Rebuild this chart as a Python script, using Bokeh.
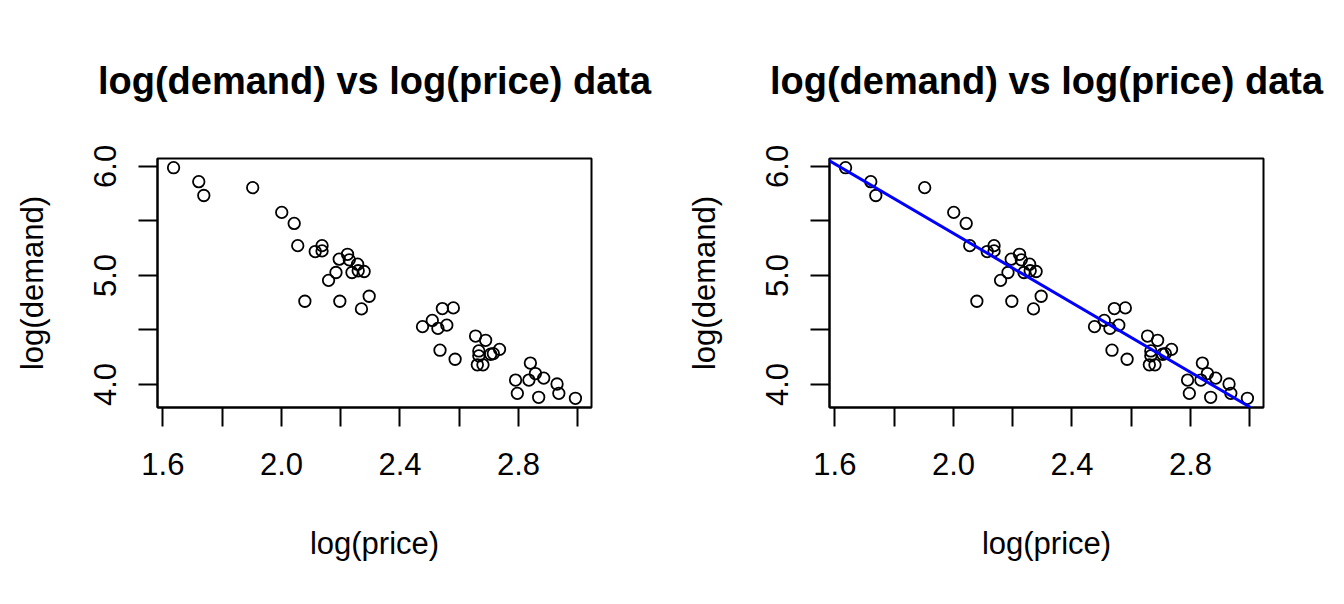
import numpy as np
from bokeh.plotting import figure
from bokeh.layouts import row
from bokeh.models import Range1d, FixedTicker, Slope
from bokeh.embed import file_html
from bokeh.resources import INLINE

# ---- data ----
log_price = [1.636, 1.721, 1.738, 1.903, 2.001, 2.043, 2.055, 2.114, 2.137, 2.137,
             2.079, 2.159, 2.184, 2.195, 2.223, 2.229, 2.257, 2.238, 2.259, 2.279,
             2.197, 2.270, 2.296, 2.476, 2.509, 2.528, 2.543, 2.580, 2.558, 2.535,
             2.586, 2.655, 2.689, 2.666, 2.666, 2.661, 2.680, 2.706, 2.715, 2.736,
             2.840, 2.857, 2.790, 2.835, 2.885, 2.930, 2.796, 2.868, 2.936, 2.992]
log_demand = [5.988, 5.860, 5.733, 5.805, 5.578, 5.477, 5.273, 5.219, 5.273, 5.225,
              4.763, 4.955, 5.027, 5.149, 5.194, 5.143, 5.103, 5.027, 5.043, 5.036,
              4.763, 4.693, 4.809, 4.530, 4.587, 4.514, 4.696, 4.702, 4.544, 4.314,
              4.231, 4.444, 4.405, 4.307, 4.262, 4.180, 4.180, 4.277, 4.283, 4.322,
              4.196, 4.100, 4.040, 4.040, 4.058, 4.004, 3.918, 3.882, 3.918, 3.873]

x_ticks = [1.6, 1.8, 2.0, 2.2, 2.4, 2.6, 2.8, 3.0]
x_tick_labels = ["1.6", "", "2.0", "", "2.4", "", "2.8", ""]
y_ticks = [4.0, 4.5, 5.0, 5.5, 6.0]
y_tick_labels = ["4.0", "", "5.0", "", "6.0"]

title_text = "log(demand) vs log(price) data"
x_label = "log(price)"
y_label = "log(demand)"

FONT = "Liberation Sans"


def padded(vals):
    lo, hi = min(vals), max(vals)
    d = (hi - lo) * 0.04
    return lo - d, hi + d


def make_panel(with_fit):
    p = figure(width=672, height=604, output_backend="svg", toolbar_location=None,
               x_range=Range1d(*padded(log_price)), y_range=Range1d(*padded(log_demand)),
               min_border_left=157, min_border_right=81,
               min_border_top=157, min_border_bottom=197,
               background_fill_color="white", border_fill_color="white",
               title=title_text)
    p.grid.visible = False
    p.outline_line_color = "black"
    p.outline_line_width = 2
    p.outline_line_alpha = 1

    p.title.text_font = FONT
    p.title.text_font_style = "bold"
    p.title.text_font_size = "38px"
    p.title.align = "center"
    p.title.standoff = 114
    p.title.text_color = "black"

    for ax in (p.xaxis[0], p.yaxis[0]):
        ax.axis_line_color = "black"
        ax.axis_line_width = 2
        ax.major_tick_line_color = "black"
        ax.major_tick_line_width = 2
        ax.major_tick_out = 19
        ax.major_tick_in = 0
        ax.minor_tick_line_color = None
        ax.major_label_text_font = FONT
        ax.major_label_text_font_size = "31px"
        ax.major_label_text_color = "black"
        ax.axis_label_text_font = FONT
        ax.axis_label_text_font_size = "31px"
        ax.axis_label_text_font_style = "normal"
        ax.axis_label_text_color = "black"

    xa = p.xaxis[0]
    xa.ticker = FixedTicker(ticks=x_ticks)
    xa.major_label_overrides = dict(zip(x_ticks, x_tick_labels))
    xa.major_label_standoff = 26
    xa.axis_label = x_label
    xa.axis_label_standoff = 48

    ya = p.yaxis[0]
    ya.ticker = FixedTicker(ticks=y_ticks)
    ya.major_label_overrides = dict(zip(y_ticks, y_tick_labels))
    ya.major_label_orientation = "vertical"
    ya.major_label_standoff = 22
    ya.axis_label = y_label
    ya.axis_label_standoff = 42

    p.scatter(log_price, log_demand, marker="circle", size=11.5,
              fill_color=None, line_color="black", line_width=1.8)

    if with_fit:
        slope, intercept = np.polyfit(log_price, log_demand, 1)
        p.add_layout(Slope(gradient=float(slope), y_intercept=float(intercept),
                           line_color="#0000FF", line_width=3))
    return p


p1 = make_panel(False)
p2 = make_panel(True)
layout = row(p1, p2)

open("out.html", "w").write(file_html(layout, INLINE))
